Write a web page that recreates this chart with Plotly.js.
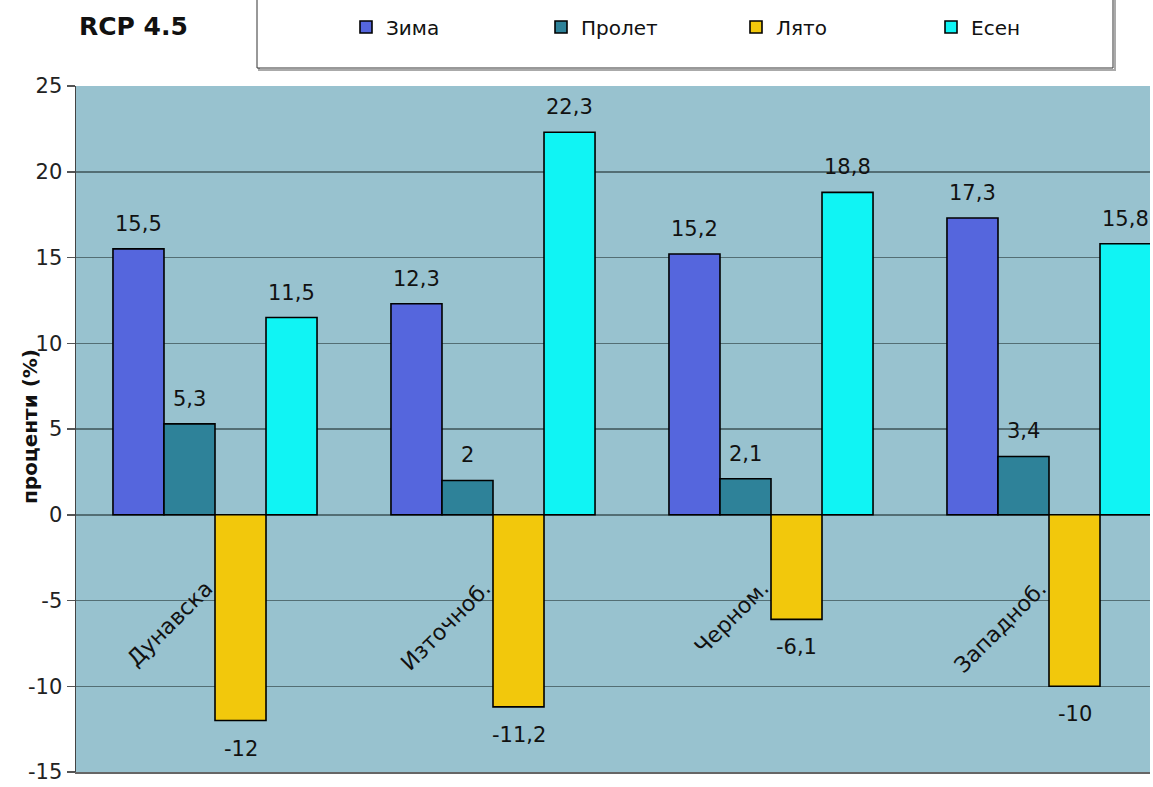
<!DOCTYPE html>
<html>
<head>
<meta charset="utf-8">
<script src="https://cdn.plot.ly/plotly-3.0.1.min.js"></script>
<style>html,body{margin:0;padding:0;background:#fff;}#chart{width:1153px;height:787px;}</style>
</head>
<body>
<div id="chart"></div>
<script>
const categories = ["Дунавска", "Източноб.", "Черном.", "Западноб."];
const seriesNames = ["Зима", "Пролет", "Лято", "Есен"];
const winter = [15.5, 12.3, 15.2, 17.3];
const spring = [5.3, 2, 2.1, 3.4];
const summer = [-12, -11.2, -6.1, -10];
const autumn = [11.5, 22.3, 18.8, 15.8];
const yTicks = [-15, -10, -5, 0, 5, 10, 15, 20, 25];
const chartTitle = "RCP 4.5";
const yTitle = "проценти (%)";

const colors = ["#5566DD", "#2E8299", "#F2C80C", "#10F4F4"];
const allSeries = [winter, spring, summer, autumn];
const xIdx = categories.map((c, i) => i);
const FONT = "DejaVu Sans, Liberation Sans, Arial, sans-serif";
const bargap = 0.266;

const traces = allSeries.map((vals, k) => ({
  type: "bar",
  name: seriesNames[k],
  x: xIdx,
  y: vals,
  marker: {color: colors[k], line: {color: "#000", width: 1.6}},
  hoverinfo: "skip"
}));

const M = {l: 76, r: 3, t: 86, b: 15};
const plotW = 1153 - M.l - M.r;
const catPx = 278;
const plotH = 787 - M.t - M.b;

const px2x = p => (p - M.l) / plotW;
const px2y = p => 1 + (M.t - p) / plotH;

const annotations = categories.map((c, i) => ({
  x: i + 0.02, y: -3.4, xref: "x", yref: "y",
  text: c, showarrow: false, textangle: -45,
  xanchor: "right", yanchor: "top",
  font: {family: FONT, size: 22, color: "#111"}
}));

const barW = (1 - bargap) / seriesNames.length;
allSeries.forEach((vals, k) => {
  vals.forEach((v, i) => {
    annotations.push({
      x: i + (k - (seriesNames.length - 1) / 2) * barW,
      y: v, xref: "x", yref: "y",
      text: String(v).replace(".", ","),
      showarrow: false, xanchor: "center", yanchor: "middle",
      yshift: v >= 0 ? 25 : -28,
      font: {family: FONT, size: 21, color: "#111"}
    });
  });
});

annotations.push({
  xref: "paper", yref: "paper",
  x: px2x(30), y: px2y(426), xanchor: "center", yanchor: "middle",
  text: "<b>" + yTitle + "</b>", textangle: -90, showarrow: false,
  font: {family: FONT, size: 20, color: "#111"}
});

const layout = {
  width: 1153, height: 787,
  margin: M,
  paper_bgcolor: "#ffffff",
  plot_bgcolor: "#98C2CF",
  barmode: "group",
  bargap: bargap,
  bargroupgap: 0,
  showlegend: true,
  title: {
    text: "<b>" + chartTitle + "</b>",
    xref: "paper", x: px2x(79), xanchor: "left",
    yref: "container", y: 1 - 26 / 787, yanchor: "middle",
    font: {family: FONT, size: 25, color: "#111"}
  },
  legend: {
    orientation: "h",
    x: px2x(346), xanchor: "left",
    y: px2y(27), yanchor: "middle",
    bgcolor: "rgba(0,0,0,0)",
    borderwidth: 0,
    entrywidth: 150, entrywidthmode: "pixels",
    itemwidth: 30,
    traceorder: "normal",
    font: {family: FONT, size: 20, color: "#111"}
  },
  xaxis: {
    range: [-0.5, -0.5 + plotW / catPx],
    showticklabels: false,
    showgrid: false, zeroline: false,
    showline: true, linecolor: "#666", linewidth: 2,
    fixedrange: true
  },
  yaxis: {
    range: [-15, 25],
    tickvals: yTicks,
    ticktext: yTicks.map(String),
    ticks: "outside", ticklen: 8, tickcolor: "#555", tickwidth: 1.5,
    ticklabeloverflow: "allow",
    showline: true, linecolor: "#444", linewidth: 1.5,
    showgrid: true, gridcolor: "rgba(70,95,100,0.85)", gridwidth: 1.5,
    zeroline: true, zerolinecolor: "rgba(70,95,100,0.85)", zerolinewidth: 1.5,
    layer: "above traces",
    tickfont: {family: FONT, size: 21, color: "#222"},
    fixedrange: true
  },
  annotations: annotations,
  shapes: [
    {type: "rect", xref: "paper", yref: "paper",
     x0: px2x(259), x1: px2x(1115), y0: px2y(70), y1: px2y(-10),
     line: {color: "#aaa", width: 2}, fillcolor: "rgba(0,0,0,0)", layer: "below"},
    {type: "rect", xref: "paper", yref: "paper",
     x0: px2x(257), x1: px2x(1113), y0: px2y(68), y1: px2y(-10),
     line: {color: "#333", width: 1}, fillcolor: "#ffffff", layer: "below"}
  ]
};

Plotly.newPlot("chart", traces, layout, {displayModeBar: false, staticPlot: true});
</script>
</body>
</html>
